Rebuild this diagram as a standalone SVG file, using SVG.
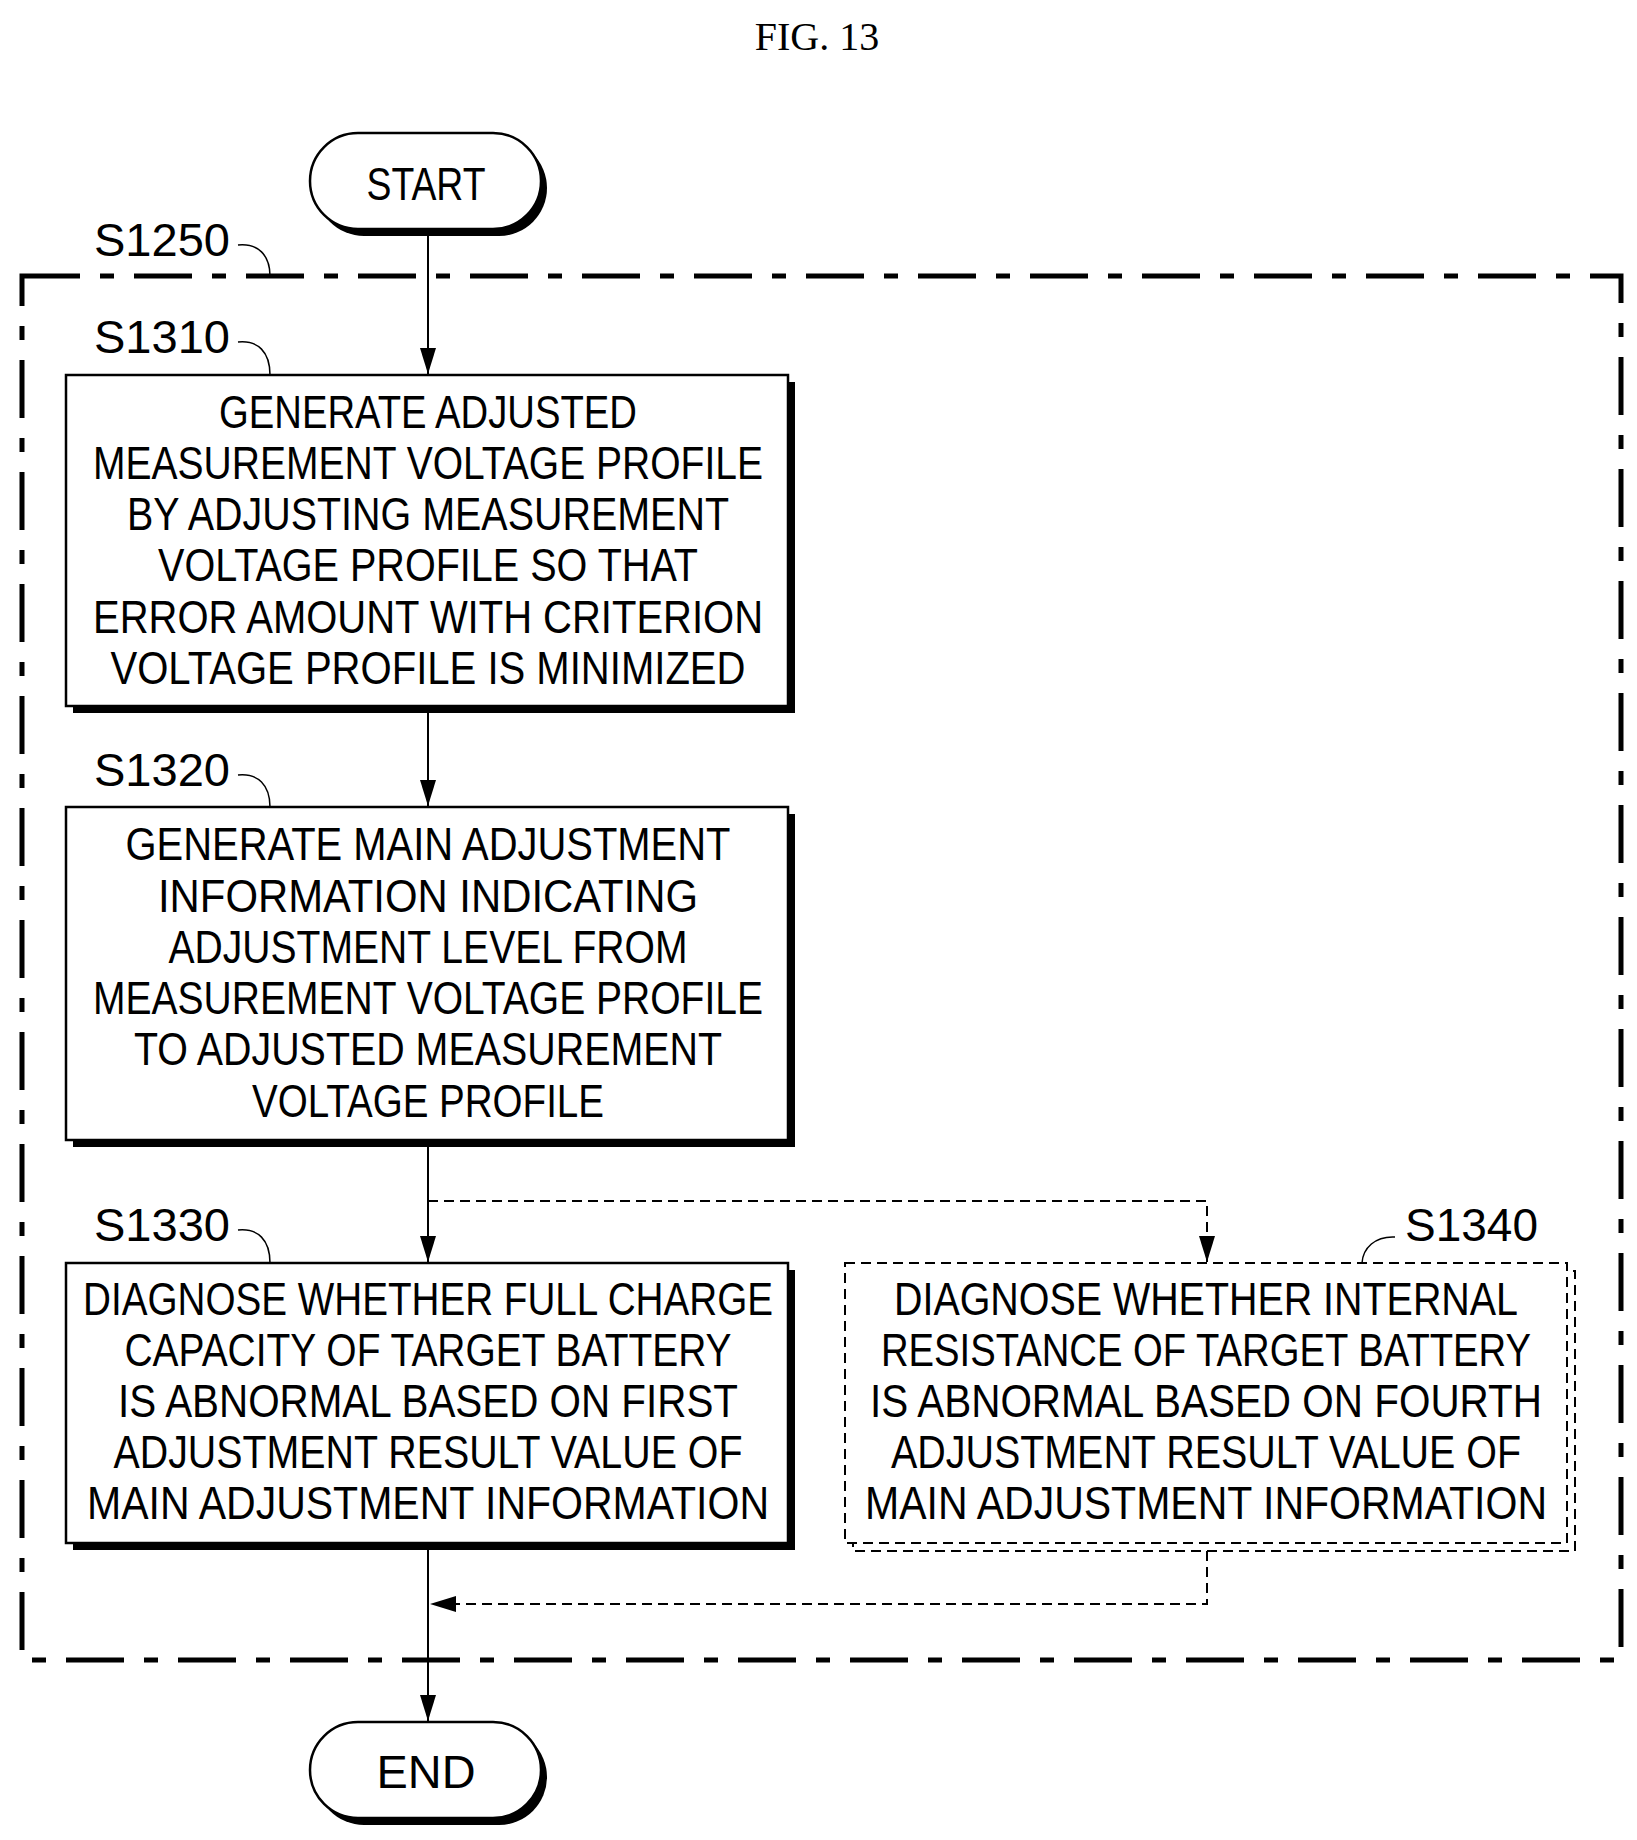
<svg xmlns="http://www.w3.org/2000/svg" width="1637" height="1840" viewBox="0 0 1637 1840">
<style>
text{font-family:"Liberation Sans",Arial,sans-serif;fill:#000}
.t{font-size:47px;text-anchor:middle}
.lb{font-size:47px}
.box{fill:#fff;stroke:#000;stroke-width:2.5}
.sh{fill:#000}
.ln{fill:none;stroke:#000;stroke-width:2}
.dl{fill:none;stroke:#000;stroke-width:2;stroke-dasharray:10 6}
.ld{fill:none;stroke:#000;stroke-width:1.5}
</style>
<defs>
<marker id="ah" viewBox="0 0 26 16" refX="26" refY="8" markerWidth="26" markerHeight="16" orient="auto" markerUnits="userSpaceOnUse"><path d="M0,0 L26,8 L0,16 Z" fill="#000"/></marker>
</defs>
<text x="817" y="50" style="font-family:'Liberation Serif',serif;font-size:40px;text-anchor:middle">FIG. 13</text>
<g id="frame">
<rect x="22" y="276" width="1599" height="1384" fill="none" stroke="#000" stroke-width="5" stroke-dasharray="58 20 14 20"/>
<text class="lb" x="94" y="256" textLength="136" lengthAdjust="spacingAndGlyphs">S1250</text>
<path class="ld" d="M238,245 C258,243 270,255 270,276"/>
</g>
<g id="connectors">
<path class="ln" d="M428,236 V374" marker-end="url(#ah)"/>
<path class="ln" d="M428,707 V806" marker-end="url(#ah)"/>
<path class="ln" d="M428,1140 V1262" marker-end="url(#ah)"/>
<path class="dl" d="M428,1201 H1207 V1262" marker-end="url(#ah)"/>
<path class="ln" d="M428,1543 V1721" marker-end="url(#ah)"/>
<path class="dl" d="M1207,1551 V1604 H430" marker-end="url(#ah)"/>
</g>
<g id="start">
<rect class="sh" x="316" y="140" width="231" height="96" rx="48"/>
<rect class="box" x="310" y="133" width="231" height="96" rx="48"/>
<text class="t" x="426" y="200" textLength="119" lengthAdjust="spacingAndGlyphs">START</text>
</g>
<g id="s1310">
<text class="lb" x="94" y="353" textLength="136" lengthAdjust="spacingAndGlyphs">S1310</text>
<path class="ld" d="M238,342 C258,340 270,352 270,375"/>
<rect class="sh" x="73" y="382" width="722" height="331"/>
<rect class="box" x="66" y="375" width="722" height="331"/>
<text class="t" x="428" y="428" textLength="418" lengthAdjust="spacingAndGlyphs">GENERATE ADJUSTED</text>
<text class="t" x="428" y="479" textLength="670" lengthAdjust="spacingAndGlyphs">MEASUREMENT VOLTAGE PROFILE</text>
<text class="t" x="428" y="530" textLength="602" lengthAdjust="spacingAndGlyphs">BY ADJUSTING MEASUREMENT</text>
<text class="t" x="428" y="581" textLength="540" lengthAdjust="spacingAndGlyphs">VOLTAGE PROFILE SO THAT</text>
<text class="t" x="428" y="633" textLength="670" lengthAdjust="spacingAndGlyphs">ERROR AMOUNT WITH CRITERION</text>
<text class="t" x="428" y="684" textLength="635" lengthAdjust="spacingAndGlyphs">VOLTAGE PROFILE IS MINIMIZED</text>
</g>
<g id="s1320">
<text class="lb" x="94" y="786" textLength="136" lengthAdjust="spacingAndGlyphs">S1320</text>
<path class="ld" d="M238,775 C258,773 270,785 270,807"/>
<rect class="sh" x="73" y="814" width="722" height="333"/>
<rect class="box" x="66" y="807" width="722" height="333"/>
<text class="t" x="428" y="860" textLength="605" lengthAdjust="spacingAndGlyphs">GENERATE MAIN ADJUSTMENT</text>
<text class="t" x="428" y="912" textLength="540" lengthAdjust="spacingAndGlyphs">INFORMATION INDICATING</text>
<text class="t" x="428" y="963" textLength="519" lengthAdjust="spacingAndGlyphs">ADJUSTMENT LEVEL FROM</text>
<text class="t" x="428" y="1014" textLength="670" lengthAdjust="spacingAndGlyphs">MEASUREMENT VOLTAGE PROFILE</text>
<text class="t" x="428" y="1065" textLength="588" lengthAdjust="spacingAndGlyphs">TO ADJUSTED MEASUREMENT</text>
<text class="t" x="428" y="1117" textLength="352" lengthAdjust="spacingAndGlyphs">VOLTAGE PROFILE</text>
</g>
<g id="s1330">
<text class="lb" x="94" y="1241" textLength="136" lengthAdjust="spacingAndGlyphs">S1330</text>
<path class="ld" d="M238,1230 C258,1228 270,1240 270,1263"/>
<rect class="sh" x="73" y="1270" width="722" height="280"/>
<rect class="box" x="66" y="1263" width="722" height="280"/>
<text class="t" x="428" y="1315" textLength="690" lengthAdjust="spacingAndGlyphs">DIAGNOSE WHETHER FULL CHARGE</text>
<text class="t" x="428" y="1366" textLength="607" lengthAdjust="spacingAndGlyphs">CAPACITY OF TARGET BATTERY</text>
<text class="t" x="428" y="1417" textLength="620" lengthAdjust="spacingAndGlyphs">IS ABNORMAL BASED ON FIRST</text>
<text class="t" x="428" y="1468" textLength="629" lengthAdjust="spacingAndGlyphs">ADJUSTMENT RESULT VALUE OF</text>
<text class="t" x="428" y="1519" textLength="682" lengthAdjust="spacingAndGlyphs">MAIN ADJUSTMENT INFORMATION</text>
</g>
<g id="s1340">
<text class="lb" x="1405" y="1241" textLength="133" lengthAdjust="spacingAndGlyphs">S1340</text>
<path class="ld" d="M1395,1237 C1375,1236 1363,1248 1362,1263"/>
<rect x="853" y="1271" width="722" height="280" fill="none" stroke="#000" stroke-width="2" stroke-dasharray="10 6"/>
<rect x="845" y="1263" width="722" height="280" fill="#fff" stroke="#000" stroke-width="2" stroke-dasharray="10 6"/>
<text class="t" x="1206" y="1315" textLength="624" lengthAdjust="spacingAndGlyphs">DIAGNOSE WHETHER INTERNAL</text>
<text class="t" x="1206" y="1366" textLength="650" lengthAdjust="spacingAndGlyphs">RESISTANCE OF TARGET BATTERY</text>
<text class="t" x="1206" y="1417" textLength="672" lengthAdjust="spacingAndGlyphs">IS ABNORMAL BASED ON FOURTH</text>
<text class="t" x="1206" y="1468" textLength="630" lengthAdjust="spacingAndGlyphs">ADJUSTMENT RESULT VALUE OF</text>
<text class="t" x="1206" y="1519" textLength="682" lengthAdjust="spacingAndGlyphs">MAIN ADJUSTMENT INFORMATION</text>
</g>
<g id="end">
<rect class="sh" x="316" y="1729" width="231" height="96" rx="48"/>
<rect class="box" x="310" y="1722" width="231" height="96" rx="48"/>
<text class="t" x="426" y="1788" textLength="99" lengthAdjust="spacingAndGlyphs">END</text>
</g>
</svg>
